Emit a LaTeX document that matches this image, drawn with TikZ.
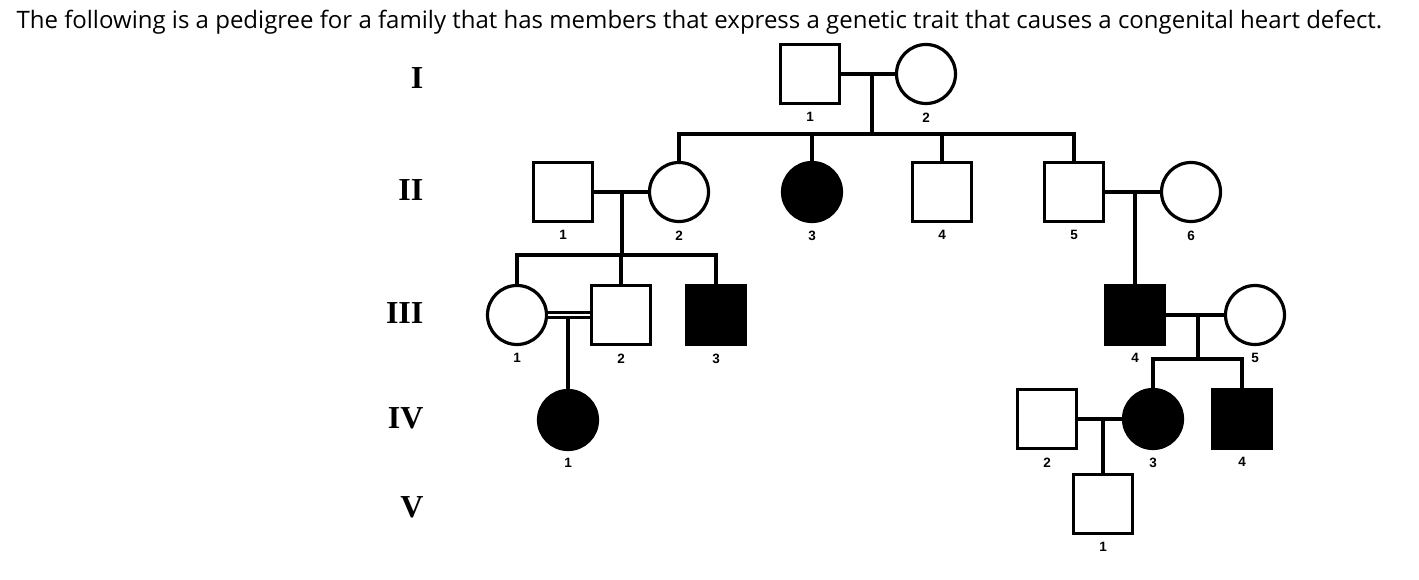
\documentclass[tikz,border=0pt]{standalone}
\usepackage{fontspec}
\setmainfont{Liberation Serif}
\setsansfont{Liberation Sans}
\newfontfamily\titlefont{Open Sans}
\usetikzlibrary{positioning}

\begin{document}
\begin{tikzpicture}[x=1pt, y=-1pt,
  line width=3.2pt, line join=miter, label distance=5pt,
  person/.style={draw, minimum size=59pt, inner sep=0pt, fill=white},
  male/.style={person, rectangle},
  female/.style={person, circle},
  aff/.style={fill=black},
  lab/.style={font=\sffamily\bfseries\fontsize{13.5}{14}\selectfont, inner sep=1pt},
  gen/.style={font=\bfseries\fontsize{32}{32}\selectfont, anchor=east, inner sep=0pt}]
  \useasboundingbox (0,0) rectangle (1419,580);
  \node[anchor=base west, inner sep=0pt, font=\titlefont\fontsize{24}{28}\selectfont] (title) at (15,29)
    {The following is a pedigree for a family that has members that express a genetic trait that causes a congenital heart defect.};
  % generations
  \node[gen] (g1) at (425,78) {I};
  \node[gen] (g2) at (425,190) {II};
  \node[gen] (g3) at (425,313) {III};
  \node[gen] (g4) at (425,418) {IV};
  \node[gen] (g5) at (425,507) {V};
  % I
  \node[male, label={[lab]below:1}] (i1) at (810,74) {};
  \node[female, label={[lab]below:2}] (i2) at (926,74) {};
  % II
  \node[male, label={[lab]below:1}] (ii1) at (563,192) {};
  \node[female, label={[lab]below:2}] (ii2) at (679,192) {};
  \node[female, aff, label={[lab]below:3}] (ii3) at (812,192) {};
  \node[male, label={[lab]below:4}] (ii4) at (942,192) {};
  \node[male, label={[lab]below:5}] (ii5) at (1074,192) {};
  \node[female, label={[lab]below:6}] (ii6) at (1191,192) {};
  % III
  \node[female, label={[lab]below:1}] (iii1) at (517,315) {};
  \node[male, label={[lab]below:2}] (iii2) at (621,315) {};
  \node[male, aff, label={[lab]below:3}] (iii3) at (716,315) {};
  \node[male, aff, label={[lab]below:4}] (iii4) at (1135,315) {};
  \node[female, label={[lab]below:5}] (iii5) at (1255,315) {};
  % IV
  \node[female, aff, label={[lab]below:1}] (iv1) at (568,420) {};
  \node[male, label={[lab]below:2}] (iv2) at (1047,419) {};
  \node[female, aff, label={[lab]below:3}] (iv3) at (1153,419) {};
  \node[male, aff, label={[lab]below:4}] (iv4) at (1242,419) {};
  % V
  \node[male, label={[lab]below:1}] (v1) at (1103,504) {};

  % junctions
  \coordinate (m1) at (872,74);
  \coordinate (s1) at (872,134);
  \coordinate (m2) at (622,192);
  \coordinate (s2) at (622,255);
  \coordinate (m3) at (568,317.5);
  \coordinate (m4) at (1135,192);
  \coordinate (m5) at (1198,315);
  \coordinate (s5) at (1198,359);
  \coordinate (m6) at (1103,419);

  \draw (i1) -- (i2);
  \draw (m1) -- (s1);
  \draw (ii2.north) -- (ii2.north |- s1) -- (ii5.north |- s1) -- (ii5.north);
  \draw (ii3.north) -- (ii3.north |- s1);
  \draw (ii4.north) -- (ii4.north |- s1);

  \draw (ii1) -- (ii2);
  \draw (m2) -- (s2);
  \draw (iii1.north) -- (iii1.north |- s2) -- (iii3.north |- s2) -- (iii3.north);
  \draw (iii2.north) -- (iii2.north |- s2);

  \draw[line width=2.9pt, double, double distance=2.4pt] (iii1) -- (iii2);
  \draw (m3) -- (iv1.north);

  \draw (ii5) -- (ii6);
  \draw (m4) -- (iii4.north);
  \draw (iii4) -- (iii5);
  \draw (m5) -- (s5);
  \draw (iv3.north) -- (iv3.north |- s5) -- (iv4.north |- s5) -- (iv4.north);

  \draw (iv2) -- (iv3);
  \draw (m6) -- (v1.north);
\end{tikzpicture}
\end{document}
